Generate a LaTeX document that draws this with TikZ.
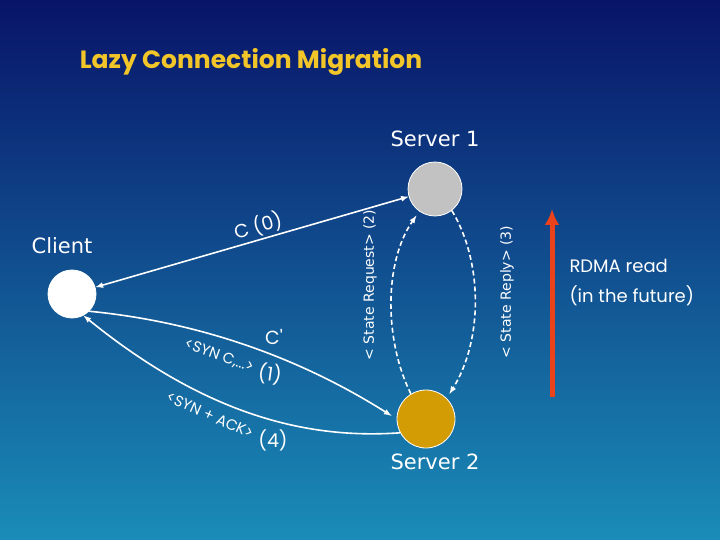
\documentclass[tikz,border=0pt]{standalone}
\usepackage{fontspec}
\setmainfont{DejaVu Sans}
\newfontfamily\comicfont{Poppins}
\usetikzlibrary{arrows,arrows.meta,shapes,calc,positioning}
\definecolor{navytop}{RGB}{8,20,104}
\definecolor{navymid}{RGB}{16,84,146}
\definecolor{tealbot}{RGB}{26,140,184}
\definecolor{titlegold}{RGB}{242,198,40}
\definecolor{servgray}{RGB}{194,194,194}
\definecolor{servgold}{RGB}{212,156,4}
\definecolor{rdmared}{RGB}{234,66,26}
\tikzstyle{host}=[circle,draw=white,line width=0.8pt,inner sep=0pt]
\tikzstyle{link}=[draw=white,line width=1.6pt,-latex]
\tikzstyle{statelink}=[draw=white,line width=1.6pt,dash pattern=on 5pt off 3pt,-latex,shorten >=5pt]
\tikzstyle{hostlabel}=[text=white,font=\fontsize{21}{24}\selectfont]
\tikzstyle{msg}=[text=white,font=\comicfont\fontsize{19}{22}\selectfont]
\tikzstyle{smallmsg}=[text=white,font=\comicfont\fontsize{15}{17}\selectfont]
\tikzstyle{statemsg}=[text=white,font=\fontsize{14}{16}\selectfont,rotate=90]

\begin{document}
\begin{tikzpicture}[x=1pt,y=-1pt]
    % background
    \shade[top color=navytop, middle color=navymid, bottom color=tealbot] (0,0) rectangle (720,540);
    \useasboundingbox (0,0) rectangle (720,540);

    \node[text=titlegold, font=\comicfont\bfseries\fontsize{25}{30}\selectfont] (title) at (251,62) {Lazy Connection Migration};

    % First we draw the hosts
    \foreach \pos/\name/\size/\col in {{(72,294)/client/48pt/white},{(435,189)/srv1/54pt/servgray},{(426,419)/srv2/58pt/servgold}}
        \node[host,minimum size=\size,fill=\col] (\name) at \pos {};

    \node[hostlabel] (clientlbl) at (62,246) {Client};
    \node[hostlabel] (srv1lbl) at (435,139) {Server 1};
    \node[hostlabel] (srv2lbl) at (435,462) {Server 2};

    % old connection
    \draw[link,latex-latex] (client) -- (srv1);
    \node[msg,rotate=16] (czero) at (258,226) {C (0)};

    % new connection to server 2
    \draw[link,shorten >=6pt] (client.-45) .. controls (200,322) and (300,358) .. (srv2.west);
    \node[msg] (cprime) at (274,337) {C'};
    \node[smallmsg,rotate=-20] (syn) at (219,356) {<SYN C,...>};
    \node[msg,rotate=-8] (one) at (270,374) {(1)};

    \draw[link] (srv2.208) .. controls (300,440) and (200,410) .. (client.-62);
    \node[smallmsg,rotate=-24] (synack) at (210,415) {<SYN + ACK>};
    \node[msg] (four) at (273,440) {(4)};

    % state transfer between the servers
    \draw[statelink] (srv2.121) .. controls (384,340) and (384,262) .. (srv1.-125);
    \draw[statelink] (srv1.-52) .. controls (483,262) and (483,340) .. (srv2.45);
    \node[statemsg] (req) at (370,285) {< State Request> (2)};
    \node[statemsg] (rep) at (507,292) {< State Reply> (3)};

    %an arrow
    \coordinate (rdmabot) at (552,397);
    \coordinate (rdmatop) at (552,209);
    \draw[rdmared, line width=5pt, -{Latex[length=16pt,width=15pt]}] (rdmabot) -- (rdmatop);
    \node[right, text=white, font=\comicfont\fontsize{18}{30}\selectfont, align=left] (rdma) at (566,283) {RDMA read\\(in the future)};
\end{tikzpicture}
\end{document}
